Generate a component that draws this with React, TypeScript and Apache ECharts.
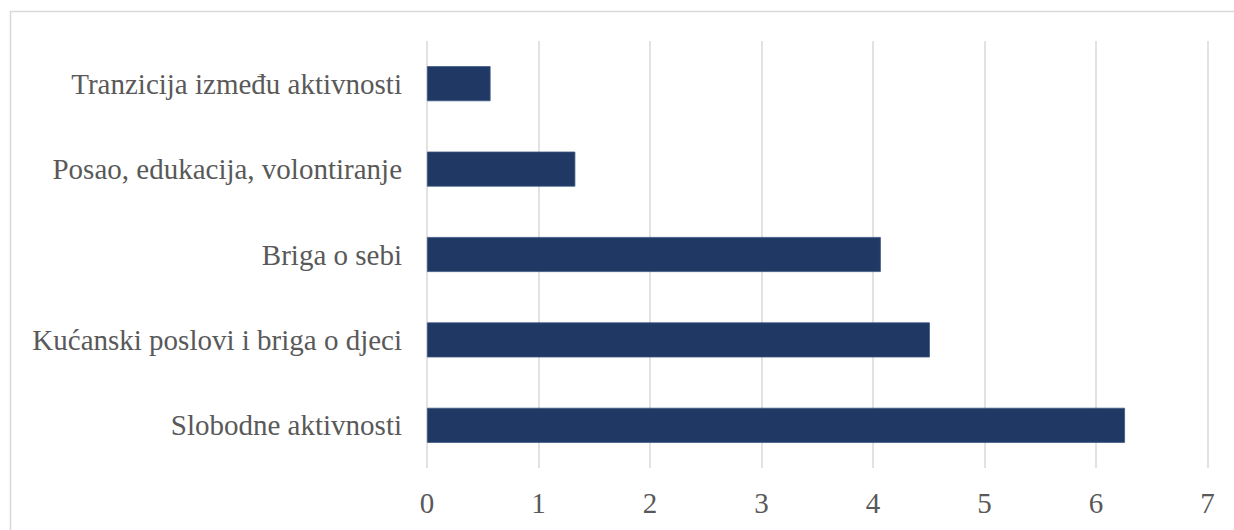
import React, { useEffect, useRef } from "react";
import * as echarts from "echarts";

const categories = [
  "Slobodne aktivnosti",
  "Kućanski poslovi i briga o djeci",
  "Briga o sebi",
  "Posao, edukacija, volontiranje",
  "Tranzicija između aktivnosti",
];
const values = [6.26, 4.51, 4.07, 1.33, 0.57];
const xTicks = [0, 1, 2, 3, 4, 5, 6, 7];

const SERIF = "'Liberation Serif', 'Times New Roman', serif";

export default function App() {
  const ref = useRef<HTMLDivElement>(null);
  useEffect(() => {
    if (!ref.current) return;
    const chart = echarts.init(ref.current, null, { renderer: "svg" });
    chart.setOption({
      animation: false,
      backgroundColor: "#ffffff",
      textStyle: { fontFamily: SERIF },
      graphic: [
        {
          type: "rect",
          shape: { x: 10.5, y: 11.5, width: 1240, height: 540 },
          style: { fill: "none", stroke: "#d9d9d9", lineWidth: 1.5 },
          silent: true,
        },
      ],
      grid: { left: 427, right: 26.5, top: 41, bottom: 62, containLabel: false },
      xAxis: {
        type: "value",
        min: xTicks[0],
        max: xTicks[xTicks.length - 1],
        interval: 1,
        axisLine: { show: false },
        axisTick: { show: false },
        axisLabel: {
          color: "#595959",
          fontSize: 29,
          margin: 20,
          fontFamily: SERIF,
        },
        splitLine: { show: true, lineStyle: { color: "#d9d9d9", width: 1.5 } },
      },
      yAxis: {
        type: "category",
        data: categories,
        axisLine: { show: false },
        axisTick: { show: false },
        axisLabel: {
          color: "#595959",
          fontSize: 29,
          margin: 25,
          fontFamily: SERIF,
        },
        splitLine: { show: false },
      },
      series: [
        {
          type: "bar",
          data: values,
          barWidth: 35,
          itemStyle: { color: "#203864", borderColor: "#3b5583", borderWidth: 0.8 },
        },
      ],
    });
    return () => chart.dispose();
  }, []);
  return (
    <div
      ref={ref}
      style={{ position: "fixed", left: 0, top: 0, width: 1234, height: 530 }}
    />
  );
}
